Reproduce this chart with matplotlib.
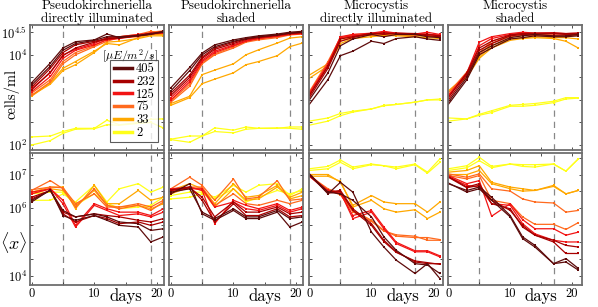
import numpy as np
import matplotlib
matplotlib.use("Agg")
import matplotlib.pyplot as plt
from matplotlib.lines import Line2D

plt.rcParams['mathtext.fontset'] = 'cm'
plt.rcParams['font.family'] = ['cmr10', 'DejaVu Serif']
plt.rcParams['axes.formatter.use_mathtext'] = True

days = [0, 3, 5, 7, 10, 12, 14, 17, 19, 21]
light_levels = ['405', '232', '125', '75', '33', '2']
level_colors = ['#5e0b0b', '#a80000', '#f21414', '#ff6a1e', '#ffa800', '#ffff1a']
titles = ['Pseudokirchneriella\ndirectly illuminated', 'Pseudokirchneriella\nshaded',
          'Microcystis\ndirectly illuminated', 'Microcystis\nshaded']
dash_days = [[5, 19], [5, 19], [5, 17], [5, 17]]

# log10 of cells/ml; rows: 405 r1, 405 r2, 232 r1, 232 r2, 125 r1, 125 r2, 75 r1, 75 r2, 33 r1, 33 r2, 2 r1, 2 r2
pseudo_direct_cells_log10 = [
    [3.38, 3.82, 4.15, 4.29, 4.33, 4.46, 4.38, 4.42, 4.45, 4.52],
    [3.33, 3.75, 4.10, 4.25, 4.32, 4.40, 4.40, 4.43, 4.47, 4.50],
    [3.28, 3.70, 4.05, 4.22, 4.30, 4.36, 4.38, 4.42, 4.46, 4.50],
    [3.22, 3.62, 3.98, 4.15, 4.28, 4.35, 4.37, 4.43, 4.47, 4.52],
    [3.25, 3.60, 4.00, 4.12, 4.25, 4.38, 4.40, 4.45, 4.48, 4.50],
    [3.18, 3.52, 3.92, 4.10, 4.22, 4.33, 4.36, 4.42, 4.46, 4.48],
    [3.15, 3.45, 3.85, 4.05, 4.20, 4.35, 4.40, 4.45, 4.52, 4.48],
    [3.10, 3.40, 3.80, 4.00, 4.18, 4.30, 4.38, 4.40, 4.50, 4.53],
    [3.08, 3.38, 3.70, 3.85, 4.08, 4.25, 4.22, 4.38, 4.45, 4.45],
    [3.10, 3.35, 3.65, 3.78, 4.05, 4.28, 4.30, 4.36, 4.42, 4.42],
    [2.18, 2.20, 2.30, 2.37, 2.37, 2.55, 2.45, 2.50, 2.57, 2.58],
    [2.00, 2.10, 2.26, 2.35, 2.36, 2.45, 2.44, 2.48, 2.50, 2.38],
]
pseudo_shaded_cells_log10 = [
    [3.27, 3.72, 4.04, 4.22, 4.33, 4.38, 4.42, 4.46, 4.50, 4.52],
    [3.20, 3.65, 4.00, 4.18, 4.30, 4.36, 4.40, 4.44, 4.48, 4.50],
    [3.15, 3.55, 3.95, 4.15, 4.28, 4.35, 4.40, 4.44, 4.48, 4.50],
    [3.10, 3.50, 3.92, 4.12, 4.25, 4.34, 4.38, 4.43, 4.47, 4.49],
    [3.05, 3.45, 3.88, 4.08, 4.22, 4.32, 4.37, 4.42, 4.46, 4.48],
    [3.00, 3.40, 3.85, 4.05, 4.20, 4.30, 4.36, 4.41, 4.45, 4.47],
    [2.98, 3.35, 3.82, 4.02, 4.18, 4.30, 4.35, 4.40, 4.45, 4.47],
    [2.95, 3.30, 3.80, 4.00, 4.15, 4.28, 4.33, 4.38, 4.44, 4.46],
    [2.92, 3.08, 3.56, 3.66, 3.80, 4.00, 4.11, 4.26, 4.37, 4.40],
    [2.88, 3.05, 3.36, 3.46, 3.60, 3.78, 3.85, 3.98, 4.18, 4.26],
    [2.13, 2.20, 2.20, 2.38, 2.33, 2.40, 2.37, 2.37, 2.40, 2.40],
    [2.12, 2.06, 2.20, 2.30, 2.27, 2.35, 2.37, 2.38, 2.37, 2.35],
]
micro_direct_cells_log10 = [
    [2.90, 3.45, 3.98, 4.08, 4.30, 4.25, 4.36, 4.40, 4.35, 4.32],
    [3.00, 3.60, 4.20, 4.35, 4.45, 4.40, 4.45, 4.45, 4.40, 4.38],
    [3.05, 3.70, 4.30, 4.38, 4.48, 4.45, 4.48, 4.47, 4.42, 4.40],
    [3.10, 3.75, 4.35, 4.40, 4.47, 4.48, 4.47, 4.45, 4.45, 4.42],
    [3.15, 3.80, 4.40, 4.45, 4.48, 4.52, 4.48, 4.46, 4.50, 4.45],
    [3.12, 3.75, 4.38, 4.42, 4.45, 4.50, 4.47, 4.47, 4.46, 4.43],
    [3.18, 3.85, 4.38, 4.45, 4.46, 4.50, 4.47, 4.46, 4.45, 4.44],
    [3.10, 3.80, 4.35, 4.43, 4.44, 4.48, 4.45, 4.44, 4.43, 4.42],
    [3.55, 3.80, 4.30, 4.40, 4.43, 4.46, 4.44, 4.42, 4.42, 4.40],
    [3.48, 3.75, 4.25, 4.36, 4.40, 4.43, 4.42, 4.40, 4.38, 4.36],
    [2.53, 2.60, 2.70, 2.75, 2.80, 2.88, 2.90, 2.95, 3.00, 3.02],
    [2.44, 2.53, 2.65, 2.73, 2.80, 2.87, 2.90, 2.95, 3.00, 3.00],
]
micro_shaded_cells_log10 = [
    [2.90, 3.45, 4.00, 4.15, 4.35, 4.38, 4.42, 4.40, 4.40, 4.42],
    [2.95, 3.50, 4.05, 4.20, 4.38, 4.42, 4.45, 4.42, 4.42, 4.45],
    [3.00, 3.55, 4.10, 4.25, 4.42, 4.45, 4.46, 4.47, 4.45, 4.46],
    [3.05, 3.60, 4.15, 4.30, 4.44, 4.47, 4.48, 4.48, 4.47, 4.48],
    [3.10, 3.60, 4.28, 4.40, 4.47, 4.50, 4.48, 4.49, 4.47, 4.48],
    [3.08, 3.58, 4.20, 4.36, 4.45, 4.48, 4.47, 4.47, 4.46, 4.46],
    [3.15, 3.62, 4.05, 4.30, 4.42, 4.45, 4.45, 4.44, 4.43, 4.45],
    [3.10, 3.58, 4.00, 4.25, 4.40, 4.43, 4.43, 4.42, 4.42, 4.43],
    [3.20, 3.55, 3.95, 4.20, 4.35, 4.38, 4.40, 4.38, 4.38, 4.35],
    [3.18, 3.50, 3.92, 4.15, 4.32, 4.36, 4.38, 4.36, 4.30, 4.15],
    [2.60, 2.58, 2.68, 2.76, 2.88, 2.90, 2.92, 2.97, 3.05, 3.05],
    [2.53, 2.58, 2.66, 2.72, 2.86, 2.86, 2.88, 2.94, 3.02, 3.04],
]

# log10 of <x>
pseudo_direct_x_log10 = [
    [6.19, 6.55, 5.79, 5.65, 5.79, 5.65, 5.50, 5.45, 5.01, 5.16],
    [6.24, 6.53, 5.94, 5.75, 5.84, 5.75, 5.60, 5.55, 5.35, 5.40],
    [6.28, 6.53, 5.84, 5.60, 5.79, 5.70, 5.55, 5.60, 5.50, 5.60],
    [6.33, 6.53, 5.89, 5.75, 5.84, 5.79, 5.75, 5.65, 5.60, 5.70],
    [6.43, 6.58, 6.14, 5.45, 6.09, 5.94, 5.79, 5.84, 5.75, 5.89],
    [6.48, 6.58, 6.24, 5.50, 6.14, 5.99, 5.89, 5.89, 5.79, 5.99],
    [6.53, 6.82, 6.58, 6.04, 6.58, 6.09, 5.99, 6.09, 5.94, 6.19],
    [6.55, 6.63, 6.61, 6.14, 6.43, 6.04, 6.04, 6.14, 6.04, 6.24],
    [6.48, 6.63, 6.63, 5.99, 6.68, 6.14, 6.14, 6.53, 6.24, 6.33],
    [6.43, 6.58, 6.53, 6.09, 6.53, 6.09, 6.04, 6.09, 5.99, 6.14],
    [6.24, 6.24, 6.43, 6.19, 6.68, 6.19, 6.58, 6.73, 6.48, 6.63],
    [6.43, 6.48, 6.48, 6.09, 6.43, 6.16, 5.99, 6.04, 6.09, 6.33],
]
pseudo_shaded_x_log10 = [
    [6.43, 6.73, 5.84, 5.65, 5.94, 5.70, 5.70, 5.89, 5.45, 5.60],
    [6.48, 6.58, 5.89, 5.70, 5.99, 5.75, 5.75, 5.94, 5.70, 5.75],
    [6.53, 6.63, 6.24, 5.60, 6.14, 5.79, 5.79, 5.99, 5.75, 5.79],
    [6.55, 6.61, 6.33, 5.75, 6.19, 5.89, 5.89, 6.04, 5.84, 5.89],
    [6.58, 6.63, 6.53, 5.55, 6.24, 6.09, 5.99, 6.14, 5.94, 6.04],
    [6.53, 6.58, 6.58, 6.04, 6.19, 5.99, 5.94, 6.09, 5.89, 5.99],
    [6.58, 6.92, 6.68, 6.24, 6.87, 6.28, 6.33, 6.82, 6.24, 6.28],
    [6.48, 6.63, 6.63, 6.09, 6.43, 6.14, 6.09, 6.24, 6.14, 6.24],
    [6.53, 6.73, 6.58, 6.14, 6.73, 6.33, 6.38, 6.68, 6.28, 6.38],
    [6.43, 6.63, 6.53, 6.04, 6.58, 6.24, 6.28, 6.63, 6.33, 6.48],
    [6.38, 6.48, 6.48, 6.33, 6.68, 6.48, 6.68, 6.73, 6.38, 6.58],
    [6.28, 6.33, 6.43, 6.28, 6.58, 6.19, 6.33, 6.53, 6.43, 6.53],
]
micro_direct_x_log10 = [
    [7.02, 6.43, 6.77, 6.48, 5.30, 4.86, 4.47, 4.08, 4.37, 3.93],
    [7.00, 6.48, 6.43, 6.24, 5.75, 5.16, 4.76, 4.37, 4.33, 4.08],
    [7.02, 6.48, 6.53, 5.99, 5.55, 5.06, 4.72, 4.42, 4.37, 4.37],
    [6.98, 6.45, 6.50, 5.94, 5.50, 5.02, 4.70, 4.45, 4.40, 4.35],
    [6.97, 6.53, 6.48, 5.70, 5.89, 5.40, 4.96, 4.72, 4.72, 4.57],
    [6.95, 6.50, 6.45, 5.79, 5.94, 5.45, 5.00, 4.75, 4.75, 4.60],
    [6.97, 6.58, 6.43, 5.94, 5.65, 5.35, 5.18, 5.14, 5.14, 5.08],
    [6.95, 6.55, 6.40, 5.90, 5.62, 5.33, 5.22, 5.18, 5.06, 5.06],
    [7.00, 7.00, 6.77, 6.09, 6.38, 6.19, 6.14, 6.14, 5.89, 6.19],
    [6.95, 6.95, 6.80, 6.04, 6.24, 5.99, 5.89, 5.96, 5.70, 5.89],
    [7.17, 7.24, 7.43, 7.22, 7.31, 7.26, 7.22, 7.31, 7.07, 7.46],
    [7.12, 7.17, 7.36, 7.17, 7.29, 7.26, 7.17, 7.29, 7.04, 7.36],
]
micro_shaded_x_log10 = [
    [6.75, 6.48, 6.58, 6.24, 5.75, 5.11, 4.86, 4.37, 4.42, 4.18],
    [6.73, 6.53, 6.63, 6.33, 5.79, 5.16, 4.91, 4.37, 4.52, 4.23],
    [6.94, 6.63, 6.73, 6.14, 5.99, 5.45, 5.21, 5.06, 4.91, 4.86],
    [6.92, 6.61, 6.68, 6.24, 5.94, 5.50, 5.21, 5.01, 4.67, 4.67],
    [6.97, 6.73, 6.82, 5.77, 6.14, 5.67, 5.40, 5.40, 5.21, 5.30],
    [6.94, 6.68, 6.63, 6.14, 6.09, 5.55, 5.25, 5.06, 5.01, 5.01],
    [7.02, 6.92, 7.02, 6.58, 6.51, 6.28, 6.19, 6.16, 5.89, 5.94],
    [6.97, 6.87, 6.97, 6.24, 6.14, 5.75, 5.53, 5.53, 5.38, 5.58],
    [7.07, 7.12, 7.26, 6.77, 6.63, 6.58, 6.53, 6.68, 6.43, 6.53],
    [7.00, 7.00, 7.12, 6.73, 6.58, 6.51, 6.53, 6.65, 6.43, 6.53],
    [7.17, 7.26, 7.51, 7.24, 7.31, 7.29, 7.29, 7.31, 7.10, 7.46],
    [7.12, 7.20, 7.41, 7.20, 7.31, 7.24, 7.22, 7.31, 7.10, 7.46],
]

top_data = [pseudo_direct_cells_log10, pseudo_shaded_cells_log10,
            micro_direct_cells_log10, micro_shaded_cells_log10]
bot_data = [pseudo_direct_x_log10, pseudo_shaded_x_log10,
            micro_direct_x_log10, micro_shaded_x_log10]

W, H = 598, 307
fig = plt.figure(figsize=(W / 100, H / 100), dpi=100)

col_left = [30, 169, 309, 448]
col_w = 134
top_box = (25, 150)
bot_box = (152.5, 285)
xlims = [(-0.25, 21.1), (-0.3, 21.1), (-0.05, 21.5), (-0.05, 21.6)]
spine_col = '#6e6e6e'


def make_ax(left, top, bottom):
    return fig.add_axes([left / W, 1 - bottom / H, col_w / W, (bottom - top) / H])


def style(ax):
    for s in ax.spines.values():
        s.set_color(spine_col)
        s.set_linewidth(1.3)
    ax.tick_params(which='both', direction='in', top=True, right=True,
                   length=2.5, width=0.6, color='#333333', labelsize=9, pad=2)
    ax.tick_params(which='minor', length=0)


for c in range(4):
    for row, (box, data) in enumerate([(top_box, top_data[c]), (bot_box, bot_data[c])]):
        ax = make_ax(col_left[c], box[0], box[1])
        for i in reversed(range(12)):
            lev = i // 2
            ax.plot(days, 10 ** np.array(data[i]), '-s', color=level_colors[lev],
                    lw=0.9, ms=1.8, mew=0)
        ax.set_yscale('log')
        for d in dash_days[c]:
            ax.axvline(d, color='#888888', lw=0.9, ls=(0, (5, 4)), zorder=0)
        ax.set_xlim(*xlims[c])
        ax.set_xticks([0, 5, 10, 15, 20])
        style(ax)
        if row == 0:
            ax.set_ylim(10 ** 1.89, 10 ** 4.66)
            yt = [2, 2.5, 3, 3.5, 4, 4.5]
            ax.set_yticks([10 ** v for v in yt])
            if c == 0:
                ax.set_yticklabels(['$10^{2}$', '', '', '', '$10^{4}$', '$10^{4.5}$'])
            else:
                ax.set_yticklabels([])
            ax.set_xticklabels([])
            ax.set_title(titles[c], fontsize=9.5, pad=2, linespacing=1.05)
            if c == 0:
                ax.set_ylabel('cells/ml', fontsize=10.5)
                ax.yaxis.set_label_coords(-0.075, 0.45)
                handles = [Line2D([], [], color=level_colors[k], lw=2.5) for k in range(6)]
                leg = ax.legend(handles, light_levels, loc='upper left',
                                bbox_to_anchor=(0.6, 0.72), fontsize=9,
                                handlelength=1.5, handletextpad=0.3, labelspacing=0.05,
                                borderpad=0.25, borderaxespad=0, frameon=True,
                                fancybox=False)
                leg.get_frame().set_edgecolor('#333333')
                leg.get_frame().set_linewidth(0.8)
                ax.text(0.745, 0.755, r'$[\mu E/m^2/s]$', transform=ax.transAxes,
                        fontsize=8.5, ha='center', va='center')
        else:
            ax.set_ylim(10 ** 3.74, 10 ** 7.65)
            yt = [4, 4.5, 5, 5.5, 6, 6.5, 7, 7.5]
            ax.set_yticks([10 ** v for v in yt])
            if c == 0:
                ax.set_yticklabels(['$10^{4}$', '', '', '', '$10^{6}$', '', '$10^{7}$', ''])
                ax.text(-0.12, 0.32, r'$\langle x\rangle$', transform=ax.transAxes,
                        fontsize=13, ha='center', va='center')
            else:
                ax.set_yticklabels([])
            ax.set_xticklabels(['0', '', '10', '', '20'])
            ax.text(15, -0.085, 'days', transform=ax.get_xaxis_transform(),
                    fontsize=12, ha='center', va='center')

fig.savefig('out.png', dpi=100)
